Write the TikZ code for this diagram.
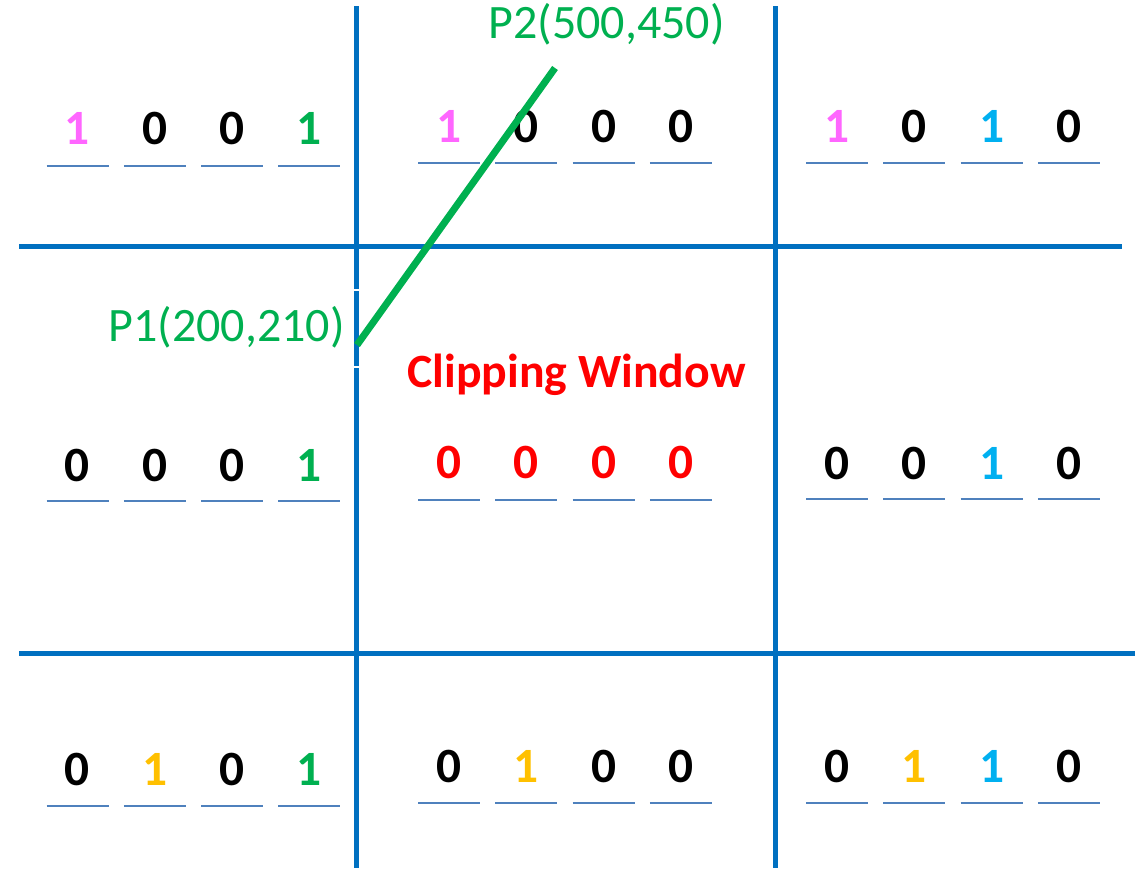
\documentclass[tikz,border=0pt]{standalone}
\usepackage{fontspec}
\setmainfont{Carlito}
\definecolor{gridblue}{HTML}{0070C0}
\definecolor{ulblue}{HTML}{4F81BD}
\definecolor{pinkc}{HTML}{FF66FF}
\definecolor{greenc}{HTML}{00B050}
\definecolor{cyanc}{HTML}{00B0F0}
\definecolor{orangec}{HTML}{FFC000}
\definecolor{redc}{HTML}{FF0000}
\tikzset{
  gridline/.style={draw=gridblue, line width=3.75pt},
  uline/.style={draw=ulblue, line width=1.5pt},
  digit/.style={inner sep=0pt, font=\fontsize{37}{40}\selectfont\bfseries},
  ptlabel/.style={inner sep=0pt, text=greenc, font=\fontsize{36}{40}\selectfont},
  segline/.style={draw=greenc, line width=5.25pt},
}
\newcommand\codecell[8]{%
  \foreach \dig [count=\k from 0] in {#5,#6,#7,#8}{
    \node[digit] (#1-\k) at ({#2+77.3*\k},#3) {\dig};
    \draw[uline] ({#2+77.3*\k-31},#4) -- ({#2+77.3*\k+31},#4);
  }}
\begin{document}
\begin{tikzpicture}[x=0.75pt,y=-0.75pt]
\useasboundingbox (0,0) rectangle (1142,868);
% grid
\draw[gridline] (356,6) -- (356,868);
\draw[gridline] (775,6) -- (775,868);
\draw[gridline] (19,246) -- (1122,246);
\draw[gridline] (19,653) -- (1135,653);
% white ticks on left vertical line
\draw[white, line width=1.2pt] (351,290) -- (361,290);
\draw[white, line width=1.2pt] (351,367) -- (361,367);
% cells
\codecell{tl}{77.5}{128}{166}{\textcolor{pinkc}{1}}{0}{0}{\textcolor{greenc}{1}}
\codecell{tm}{449}{126}{163}{\textcolor{pinkc}{1}}{0}{0}{0}
\codecell{tr}{837}{126}{163}{\textcolor{pinkc}{1}}{0}{\textcolor{cyanc}{1}}{0}
\codecell{ml}{77.5}{465}{501}{0}{0}{0}{\textcolor{greenc}{1}}
\codecell{mm}{449}{462.5}{500}{\textcolor{redc}{0}}{\textcolor{redc}{0}}{\textcolor{redc}{0}}{\textcolor{redc}{0}}
\codecell{mr}{837}{463}{499}{0}{0}{\textcolor{cyanc}{1}}{0}
\codecell{bl}{77.5}{769}{806}{0}{\textcolor{orangec}{1}}{0}{\textcolor{greenc}{1}}
\codecell{bm}{449}{766}{803}{0}{\textcolor{orangec}{1}}{0}{0}
\codecell{br}{837}{766}{803}{0}{\textcolor{orangec}{1}}{\textcolor{cyanc}{1}}{0}
% labels
\node[inner sep=0pt, anchor=base, text=redc, font=\fontsize{35.8}{40}\selectfont\bfseries] (cw) at (576.5,387) {Clipping Window};
\node[ptlabel, anchor=base] (p2lab) at (606.5,38) {P2(500,450)};
\node[ptlabel, anchor=base east] (p1lab) at (345,341) {P1(200,210)};
% line segment
\coordinate (p1) at (357,345);
\coordinate (p2) at (555,68);
\draw[segline] (p1) -- (p2);
\end{tikzpicture}
\end{document}
